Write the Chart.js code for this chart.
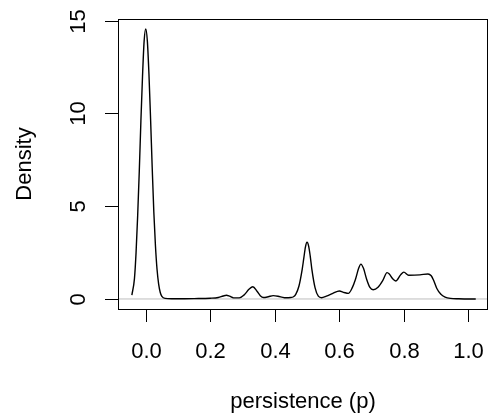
<!DOCTYPE html>
<html lang="en">
<head>
    <meta charset="UTF-8">
    <title>Density of persistence</title>
    <script src="https://cdn.jsdelivr.net/npm/chart.js"></script>
    <style>
        html, body {
            margin: 0;
            padding: 0;
            background: #ffffff;
        }
        .chart-container {
            width: 489px;
            height: 417px;
        }
    </style>
</head>
<body>
<div class="chart-container">
    <canvas id="densityChart"></canvas>
</div>

<script>
    // density curve
    const xs = [
        -0.043, -0.035, -0.03, -0.025, -0.02, -0.015, -0.01, -0.005, 0, 0.005,
        0.01, 0.015, 0.02, 0.025, 0.03, 0.035, 0.04, 0.045, 0.05, 0.06,
        0.08, 0.1, 0.15, 0.2, 0.225, 0.24, 0.25, 0.26, 0.272, 0.29,
        0.305, 0.32, 0.332, 0.345, 0.355, 0.365, 0.38, 0.395, 0.41, 0.43,
        0.45, 0.458, 0.465, 0.475, 0.485, 0.49, 0.495, 0.5, 0.505, 0.51,
        0.515, 0.525, 0.535, 0.545, 0.56, 0.58, 0.6, 0.615, 0.628, 0.64,
        0.65, 0.66, 0.667, 0.675, 0.685, 0.695, 0.705, 0.72, 0.735, 0.748,
        0.755, 0.765, 0.775, 0.79, 0.8, 0.815, 0.85, 0.875, 0.885, 0.892,
        0.902, 0.915, 0.928, 0.945, 0.97, 1.0, 1.023
    ];
    const ys = [
        0.21, 1.1, 2.5, 4.5, 6.9, 9.6, 12.0, 13.9, 14.55, 13.9,
        12.1, 9.7, 7.1, 4.7, 2.9, 1.6, 0.8, 0.35, 0.14, 0.03,
        0.01, 0.01, 0.02, 0.04, 0.08, 0.16, 0.2, 0.15, 0.06, 0.06,
        0.22, 0.52, 0.66, 0.42, 0.18, 0.08, 0.12, 0.18, 0.15, 0.07,
        0.08, 0.12, 0.25, 0.7, 1.6, 2.2, 2.8, 3.06, 2.85, 2.3,
        1.6, 0.6, 0.15, 0.07, 0.15, 0.3, 0.43, 0.35, 0.3, 0.6,
        1.05, 1.65, 1.88, 1.65, 1.05, 0.62, 0.5, 0.63, 1.0, 1.42,
        1.35, 1.1, 0.97, 1.3, 1.45, 1.28, 1.3, 1.35, 1.25, 1.02,
        0.58, 0.25, 0.1, 0.03, 0.01, 0.0, 0.0
    ];
    const xTicks = [0, 0.2, 0.4, 0.6, 0.8, 1.0];
    const xTickLabels = ["0.0", "0.2", "0.4", "0.6", "0.8", "1.0"];
    const yTicks = [0, 5, 10, 15];
    const yTickLabels = ["0", "5", "10", "15"];

    const FONT = "22px 'Liberation Sans', Arial, sans-serif";

    // R style frame: box, outside ticks, rotated y labels, grey zero line
    const rFrame = {
        id: "rFrame",
        beforeDatasetsDraw(chart) {
            const ctx = chart.ctx;
            const a = chart.chartArea;
            const y0 = chart.scales.y.getPixelForValue(0);
            ctx.save();
            ctx.strokeStyle = "#bebebe";
            ctx.lineWidth = 1;
            ctx.beginPath();
            ctx.moveTo(a.left, y0);
            ctx.lineTo(a.right, y0);
            ctx.stroke();
            ctx.restore();
        },
        afterDraw(chart) {
            const ctx = chart.ctx;
            const a = chart.chartArea;
            const xs_ = chart.scales.x;
            const ys_ = chart.scales.y;
            ctx.save();
            ctx.strokeStyle = "#000";
            ctx.lineWidth = 1;
            ctx.strokeRect(a.left + 0.5, a.top + 0.5, a.right - a.left - 1, a.bottom - a.top);

            ctx.fillStyle = "#000";
            ctx.font = FONT;
            ctx.textAlign = "center";
            ctx.textBaseline = "middle";

            xTicks.forEach((v, i) => {
                const px = Math.round(xs_.getPixelForValue(v)) + 0.5;
                ctx.beginPath();
                ctx.moveTo(px, a.bottom);
                ctx.lineTo(px, a.bottom + 13);
                ctx.stroke();
                ctx.fillText(xTickLabels[i], px, 352);
            });

            yTicks.forEach((v, i) => {
                const py = Math.round(ys_.getPixelForValue(v)) + 0.5;
                ctx.beginPath();
                ctx.moveTo(a.left - 13, py);
                ctx.lineTo(a.left, py);
                ctx.stroke();
                ctx.save();
                ctx.translate(79, py);
                ctx.rotate(-Math.PI / 2);
                ctx.fillText(yTickLabels[i], 0, 0);
                ctx.restore();
            });

            ctx.fillText("persistence (p)", (a.left + a.right) / 2, 402);
            ctx.save();
            ctx.translate(25, (a.top + a.bottom) / 2);
            ctx.rotate(-Math.PI / 2);
            ctx.fillText("Density", 0, 0);
            ctx.restore();
            ctx.restore();
        }
    };

    const points = xs.map((x, i) => ({ x: x, y: ys[i] }));

    new Chart(document.getElementById("densityChart"), {
        type: "line",
        data: {
            datasets: [{
                data: points,
                borderColor: "#000",
                borderWidth: 1.4,
                pointRadius: 0,
                fill: false,
                cubicInterpolationMode: "monotone"
            }]
        },
        options: {
            responsive: true,
            maintainAspectRatio: false,
            animation: false,
            layout: {
                padding: { left: 118, right: 1, top: 19, bottom: 108 }
            },
            plugins: {
                legend: { display: false },
                tooltip: { enabled: false }
            },
            scales: {
                x: { type: "linear", min: -0.086, max: 1.061, display: false },
                y: { type: "linear", min: -0.54, max: 15.09, display: false }
            }
        },
        plugins: [rFrame]
    });
</script>
</body>
</html>
